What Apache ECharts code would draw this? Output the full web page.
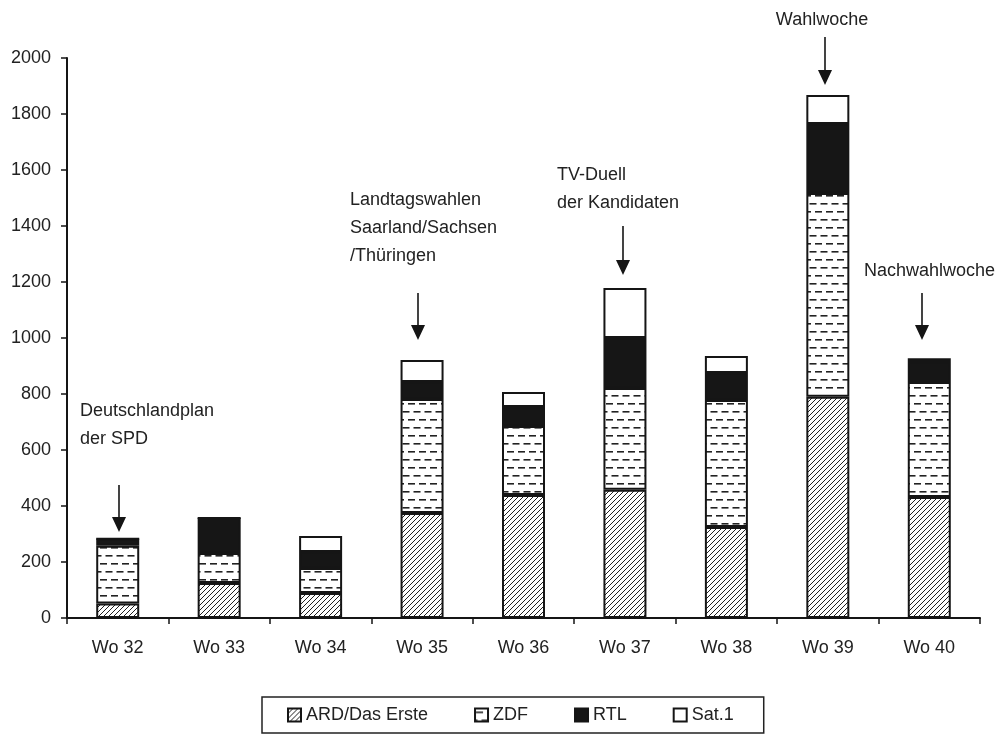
<!DOCTYPE html>
<html>
<head>
<meta charset="utf-8">
<script src="https://cdn.jsdelivr.net/npm/echarts@6/dist/echarts.min.js"></script>
<style>
html,body{margin:0;padding:0;background:#fff;}
#chart{width:996px;height:738px;}
</style>
</head>
<body>
<div id="chart"></div>
<script>
// ---- data ----
const categories = ['Wo 32','Wo 33','Wo 34','Wo 35','Wo 36','Wo 37','Wo 38','Wo 39','Wo 40'];
const seriesNames = ['ARD/Das Erste','ZDF','RTL','Sat.1'];
const ard  = [52, 125, 89, 375, 439, 458, 325, 790, 432];
const zdf  = [206, 107, 90, 407, 247, 363, 454, 728, 411];
const rtl  = [25, 125, 57, 61, 68, 179, 96, 246, 71];
const sat1 = [0, 0, 57, 78, 53, 179, 61, 104, 14];
const yTicks = [0, 2000, 200];

// annotations (text + arrow), positioned in pixels
const notes = [
  {lines:['Deutschlandplan','der SPD'], tx:80, ty:408, align:'left', ax:119, a0:485, a1:532},
  {lines:['Landtagswahlen','Saarland/Sachsen','/Thüringen'], tx:350, ty:197, align:'left', ax:418, a0:293, a1:340},
  {lines:['TV-Duell','der Kandidaten'], tx:557, ty:172, align:'left', ax:623, a0:226, a1:275},
  {lines:['Wahlwoche'], tx:822, ty:17, align:'center', ax:825, a0:37, a1:85},
  {lines:['Nachwahlwoche'], tx:864, ty:268, align:'left', ax:922, a0:293, a1:340}
];

// ---- patterns ----
function hatchPattern(){
  const c = document.createElement('canvas');
  c.width = 5; c.height = 5;
  const g = c.getContext('2d');
  g.fillStyle = '#fff'; g.fillRect(0,0,5,5);
  g.strokeStyle = '#222'; g.lineWidth = 1;
  g.beginPath();
  g.moveTo(-1,6); g.lineTo(6,-1);
  g.moveTo(-1,1); g.lineTo(1,-1);
  g.moveTo(4,6); g.lineTo(6,4);
  g.stroke();
  return c;
}
function dashPattern(){
  const w = 22, h = 16;
  const c = document.createElement('canvas');
  c.width = w; c.height = h;
  const g = c.getContext('2d');
  g.fillStyle = '#fff'; g.fillRect(0,0,w,h);
  g.fillStyle = '#222';
  g.fillRect(1,3,7,1.6); g.fillRect(12,3,7,1.6);
  g.fillRect(6.5,11,7,1.6); g.fillRect(17.5,11,4.5,1.6); g.fillRect(0,11,2.5,1.6);
  return c;
}
const fills = [
  {image: hatchPattern(), repeat:'repeat'},
  {image: dashPattern(), repeat:'repeat'},
  '#161616',
  '#ffffff'
];
const values = [ard, zdf, rtl, sat1];

const FONT = 'Liberation Sans, Arial, sans-serif';
const chart = echarts.init(document.getElementById('chart'), null, {renderer:'canvas'});

const series = seriesNames.map((n,i)=>({
  name:n, type:'bar', stack:'total', barWidth:43,
  data: values[i],
  itemStyle:{color: fills[i], borderColor:'#151515', borderWidth:2},
  emphasis:{disabled:true},
  animation:false
}));

chart.setOption({
  animation:false,
  backgroundColor:'#fff',
  grid:{left:67, right:16, top:58, bottom:120, containLabel:false},
  xAxis:{
    type:'category', data:categories,
    axisLine:{lineStyle:{color:'#151515', width:2}},
    axisTick:{show:true, alignWithLabel:false, length:6, lineStyle:{color:'#151515', width:1.5}},
    axisLabel:{color:'#222', fontSize:18, fontFamily:FONT, margin:21}
  },
  yAxis:{
    type:'value', min:yTicks[0], max:yTicks[1], interval:yTicks[2],
    splitLine:{show:false},
    axisLine:{show:true, lineStyle:{color:'#151515', width:2}},
    axisTick:{show:true, length:6, lineStyle:{color:'#151515', width:1.5}},
    axisLabel:{color:'#222', fontSize:18, fontFamily:FONT, margin:16, formatter: v => String(v)}
  },
  legend:{
    left:262, top:697,
    data:seriesNames.map(n=>({name:n, icon:'rect'})),
    itemWidth:13, itemHeight:13, itemGap:46,
    padding:[9,30,9,25],
    borderColor:'#222', borderWidth:1.5,
    textStyle:{color:'#222', fontSize:18, fontFamily:FONT},
    selectedMode:false
  },
  series: series
});

// annotations
const gfx = [];
notes.forEach(nt=>{
  gfx.push({
    type:'text', x: nt.tx, y: nt.ty - 11,
    style:{text: nt.lines.join('\n'), fill:'#222', font:'18px ' + FONT, lineHeight:28,
           align: nt.align, verticalAlign:'top'}
  });
  gfx.push({type:'line', shape:{x1:nt.ax, y1:nt.a0, x2:nt.ax, y2:nt.a1-12}, style:{stroke:'#151515', lineWidth:1.6}});
  gfx.push({type:'polygon', shape:{points:[[nt.ax-7, nt.a1-15],[nt.ax+7, nt.a1-15],[nt.ax, nt.a1]]}, style:{fill:'#151515'}});
});
chart.setOption({graphic: gfx});
</script>
</body>
</html>
